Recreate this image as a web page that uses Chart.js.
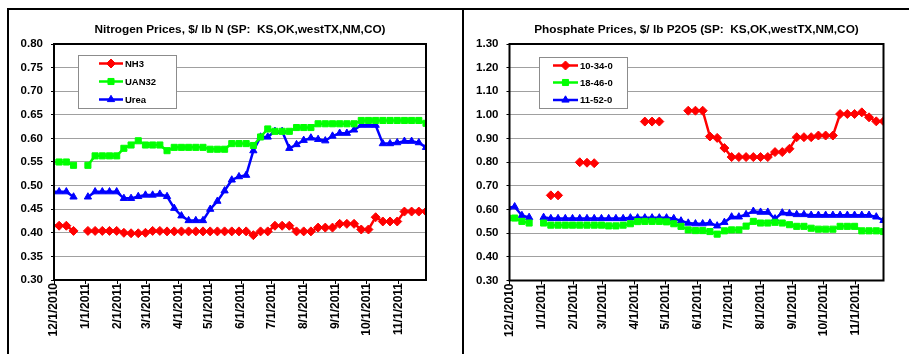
<!DOCTYPE html>
<html lang="en">
<head>
<meta charset="UTF-8">
<title>Fertilizer Prices</title>
<script src="https://cdn.jsdelivr.net/npm/chart.js"></script>
<style>
    body { margin: 0; background: #fff; }
    #wrap { position: relative; width: 909px; height: 354px; overflow: hidden; background: #fff; }
    canvas { position: absolute; top: 0; }
    #cN { left: 0; }
    #cP { left: 464px; }
    .rule { position: absolute; background: #000; }
</style>
</head>
<body>
<div id="wrap">
    <canvas id="cN" width="462" height="354"></canvas>
    <canvas id="cP" width="445" height="354"></canvas>
    <div class="rule" style="left:7px;top:8px;width:902px;height:2px"></div>
    <div class="rule" style="left:7px;top:8px;width:2px;height:346px"></div>
    <div class="rule" style="left:462px;top:8px;width:2px;height:346px"></div>
</div>
<script>
    // weekly price dates (Mondays)
    var weeks = ['11/29/2010', '12/6/2010', '12/13/2010', '12/20/2010', '12/27/2010',
        '1/3/2011', '1/10/2011', '1/17/2011', '1/24/2011', '1/31/2011',
        '2/7/2011', '2/14/2011', '2/21/2011', '2/28/2011',
        '3/7/2011', '3/14/2011', '3/21/2011', '3/28/2011',
        '4/4/2011', '4/11/2011', '4/18/2011', '4/25/2011',
        '5/2/2011', '5/9/2011', '5/16/2011', '5/23/2011', '5/30/2011',
        '6/6/2011', '6/13/2011', '6/20/2011', '6/27/2011',
        '7/4/2011', '7/11/2011', '7/18/2011', '7/25/2011',
        '8/1/2011', '8/8/2011', '8/15/2011', '8/22/2011', '8/29/2011',
        '9/5/2011', '9/12/2011', '9/19/2011', '9/26/2011',
        '10/3/2011', '10/10/2011', '10/17/2011', '10/24/2011', '10/31/2011',
        '11/7/2011', '11/14/2011', '11/21/2011', '11/28/2011'];

    // x axis tick labels, first and last day of the axis
    var monthTicks = ['12/1/2010', '1/1/2011', '2/1/2011', '3/1/2011', '4/1/2011', '5/1/2011',
        '6/1/2011', '7/1/2011', '8/1/2011', '9/1/2011', '10/1/2011', '11/1/2011'];
    var axisStart = '12/1/2010';
    var axisEnd = '11/28/2011';

    // Nitrogen, $/lb N
    var nh3 = [0.415, 0.415, 0.415, 0.404, null, 0.404, 0.404, 0.404, 0.404, 0.404,
        0.400, 0.399, 0.399, 0.400, 0.404, 0.404, 0.403, 0.403, 0.403, 0.403,
        0.403, 0.403, 0.403, 0.403, 0.403, 0.403, 0.403, 0.403, 0.395, 0.403,
        0.403, 0.415, 0.415, 0.415, 0.403, 0.403, 0.403, 0.411, 0.411, 0.411,
        0.419, 0.419, 0.419, 0.407, 0.407, 0.433, 0.424, 0.424, 0.424, 0.445,
        0.445, 0.445, 0.445];
    var uan32 = [0.550, 0.550, 0.550, 0.543, null, 0.543, 0.563, 0.563, 0.563, 0.563,
        0.579, 0.586, 0.595, 0.586, 0.586, 0.586, 0.574, 0.581, 0.581, 0.581,
        0.581, 0.581, 0.577, 0.577, 0.577, 0.589, 0.589, 0.589, 0.585, 0.603,
        0.620, 0.615, 0.615, 0.615, 0.623, 0.623, 0.623, 0.631, 0.631, 0.631,
        0.631, 0.631, 0.631, 0.638, 0.638, 0.638, 0.638, 0.638, 0.638, 0.638,
        0.638, 0.638, 0.632];
    var urea = [0.487, 0.487, 0.487, 0.476, null, 0.476, 0.487, 0.487, 0.487, 0.487,
        0.473, 0.473, 0.477, 0.480, 0.480, 0.482, 0.477, 0.452, 0.436, 0.426,
        0.426, 0.426, 0.450, 0.467, 0.489, 0.512, 0.519, 0.522, 0.574, 0.603,
        0.603, 0.615, 0.615, 0.579, 0.587, 0.596, 0.601, 0.598, 0.595, 0.605,
        0.611, 0.611, 0.618, 0.628, 0.628, 0.628, 0.589, 0.589, 0.591, 0.594,
        0.594, 0.591, 0.581];

    // Phosphate, $/lb P2O5
    var p10_34_0 = [null, null, null, null, null, null, 0.660, 0.660, null, null,
        0.800, 0.798, 0.796, null, null, null, null, null, null, 0.972,
        0.972, 0.972, null, null, null, 1.018, 1.018, 1.018, 0.909, 0.903,
        0.860, 0.822, 0.822, 0.822, 0.822, 0.822, 0.822, 0.843, 0.843, 0.857,
        0.906, 0.906, 0.906, 0.913, 0.913, 0.913, 1.004, 1.004, 1.004, 1.011,
        0.990, 0.973, 0.973];
    var p18_46_0 = [0.564, 0.564, 0.550, 0.543, null, 0.543, 0.534, 0.534, 0.534, 0.534,
        0.534, 0.534, 0.534, 0.534, 0.531, 0.531, 0.534, 0.540, 0.549, 0.550,
        0.550, 0.550, 0.548, 0.540, 0.529, 0.514, 0.511, 0.511, 0.507, 0.496,
        0.510, 0.514, 0.514, 0.530, 0.550, 0.543, 0.543, 0.546, 0.543, 0.536,
        0.529, 0.529, 0.521, 0.517, 0.517, 0.517, 0.529, 0.529, 0.529, 0.510,
        0.510, 0.510, 0.507];
    var p11_52_0 = [0.608, 0.612, 0.575, 0.567, null, 0.567, 0.562, 0.562, 0.562, 0.562,
        0.562, 0.562, 0.562, 0.562, 0.562, 0.562, 0.562, 0.565, 0.565, 0.565,
        0.565, 0.565, 0.565, 0.562, 0.552, 0.543, 0.540, 0.540, 0.543, 0.531,
        0.546, 0.569, 0.569, 0.579, 0.593, 0.589, 0.589, 0.561, 0.586, 0.583,
        0.579, 0.579, 0.576, 0.576, 0.576, 0.576, 0.576, 0.576, 0.576, 0.576,
        0.576, 0.569, 0.554];

    Chart.defaults.font.family = "'Liberation Sans', Arial, sans-serif";
    Chart.defaults.font.weight = 'bold';
    Chart.defaults.color = '#000';

    // days since the axis start
    function dia(s) {
        var p = s.split('/');
        var b = axisStart.split('/');
        return (Date.UTC(+p[2], p[0] - 1, +p[1]) - Date.UTC(+b[2], b[0] - 1, +b[1])) / 86400000;
    }

    var monthDays = monthTicks.map(dia);

    // plot frame drawn over the data, like excel
    var frame = {
        id: 'frame',
        afterDatasetsDraw(chart) {
            var a = chart.chartArea, ctx = chart.ctx;
            ctx.save();
            ctx.strokeStyle = '#000';
            ctx.lineWidth = 2;
            ctx.strokeRect(a.left, a.top, a.right - a.left, a.bottom - a.top);
            ctx.restore();
        }
    };

    var title = {
        id: 'title2',
        afterDraw(chart, args, opts) {
            var a = chart.chartArea, ctx = chart.ctx;
            ctx.save();
            ctx.font = "bold 11.8px 'Liberation Sans', Arial, sans-serif";
            ctx.fillStyle = '#000';
            ctx.textAlign = 'center';
            ctx.textBaseline = 'middle';
            ctx.fillText(opts.text, (a.left + a.right) / 2, opts.y);
            ctx.restore();
        }
    };

    var legendBox = {
        id: 'legendBox',
        afterDraw(chart, args, opts) {
            var ctx = chart.ctx;
            ctx.save();
            ctx.fillStyle = '#fff';
            ctx.fillRect(opts.x, opts.y, opts.w, opts.h);
            ctx.strokeStyle = '#8c8c8c';
            ctx.lineWidth = 1;
            ctx.strokeRect(opts.x + 0.5, opts.y + 0.5, opts.w, opts.h);
            chart.data.datasets.forEach(function (ds, i) {
                var y = opts.rows[i];
                ctx.strokeStyle = ds.borderColor;
                ctx.fillStyle = ds.borderColor;
                ctx.lineWidth = 2.5;
                ctx.beginPath();
                ctx.moveTo(opts.lineX1, y);
                ctx.lineTo(opts.lineX2, y);
                ctx.stroke();
                ctx.lineWidth = 1;
                Chart.helpers.drawPoint(ctx, {
                    pointStyle: ds.pointStyle, radius: ds.pointRadius, rotation: 0, borderWidth: 1
                }, (opts.lineX1 + opts.lineX2) / 2, y);
                ctx.fillStyle = '#000';
                ctx.font = "bold 9.5px 'Liberation Sans', Arial, sans-serif";
                ctx.textAlign = 'left';
                ctx.textBaseline = 'middle';
                ctx.fillText(ds.label, opts.textX, y + 0.5);
            });
            ctx.restore();
        }
    };

    function serie(label, values, color, style, radius) {
        var pts = [];
        for (var i = 0; i < weeks.length; i++) {
            pts.push({ x: dia(weeks[i]), y: values[i] });
        }
        return {
            label: label,
            data: pts,
            borderColor: color,
            backgroundColor: color,
            borderWidth: 2.5,
            pointStyle: style,
            pointRadius: radius,
            pointBorderWidth: 1,
            pointBackgroundColor: color,
            pointBorderColor: color,
            tension: 0
        };
    }

    function montarGrafico(id, datasets, yMin, yMax, passo, lay, tituloTxt, leg) {
        return new Chart(document.getElementById(id), {
            type: 'line',
            data: { datasets: datasets },
            options: {
                responsive: false,
                animation: false,
                devicePixelRatio: 1,
                layout: { padding: { left: 0, top: 44, right: lay.right, bottom: 0 } },
                scales: {
                    x: {
                        type: 'linear',
                        min: 0,
                        max: dia(axisEnd),
                        afterBuildTicks: function (scale) {
                            scale.ticks = monthDays.map(function (v) { return { value: v }; });
                        },
                        afterFit: function (scale) { scale.height = lay.xHeight; },
                        grid: { drawOnChartArea: false, drawTicks: true, tickLength: 4, tickColor: '#000' },
                        border: { display: false },
                        ticks: {
                            autoSkip: false,
                            minRotation: 90,
                            maxRotation: 90,
                            padding: -1,
                            font: { size: 12, weight: 'bold' },
                            callback: function (v, i) { return monthTicks[i]; }
                        }
                    },
                    y: {
                        min: yMin,
                        max: yMax,
                        afterFit: function (scale) { scale.width = lay.yWidth; },
                        grid: { color: '#a0a0a0', lineWidth: 1, tickLength: 3, tickColor: '#000' },
                        border: { display: false },
                        ticks: {
                            stepSize: passo,
                            padding: 8,
                            font: { size: 11.5, weight: 'bold' },
                            callback: function (v) { return Number(v).toFixed(2); }
                        }
                    }
                },
                plugins: {
                    legend: { display: false },
                    tooltip: { enabled: false },
                    title2: { text: tituloTxt, y: 29.5 },
                    legendBox: leg
                }
            },
            plugins: [frame, title, legendBox]
        });
    }

    montarGrafico('cN', [
        serie('NH3', nh3, '#ff0000', 'rectRot', 4.5),
        serie('UAN32', uan32, '#00ff00', 'rect', 4.3),
        serie('Urea', urea, '#0000ff', 'triangle', 4.2)
    ], 0.30, 0.80, 0.05,
        { right: 36, yWidth: 54, xHeight: 74 },
        'Nitrogen Prices, $/ lb N (SP:  KS,OK,westTX,NM,CO)',
        { x: 78, y: 55, w: 98, h: 53, rows: [63.5, 81.5, 99.5], lineX1: 99, lineX2: 123, textX: 125 });

    montarGrafico('cP', [
        serie('10-34-0', p10_34_0, '#ff0000', 'rectRot', 4.5),
        serie('18-46-0', p18_46_0, '#00ff00', 'rect', 4.3),
        serie('11-52-0', p11_52_0, '#0000ff', 'triangle', 4.2)
    ], 0.30, 1.30, 0.10,
        { right: 25.5, yWidth: 45.5, xHeight: 73.5 },
        'Phosphate Prices, $/ lb P2O5 (SP:  KS,OK,westTX,NM,CO)',
        { x: 75, y: 57, w: 88, h: 51, rows: [65.5, 82.5, 100], lineX1: 89, lineX2: 114, textX: 116 });
</script>
</body>
</html>
